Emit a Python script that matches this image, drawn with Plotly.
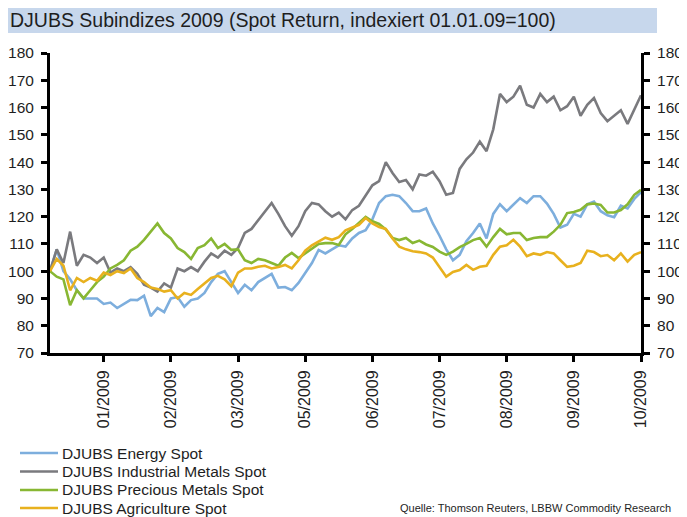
import plotly.graph_objects as go

# ---------------- data ----------------
series_names = ["DJUBS Energy Spot", "DJUBS Industrial Metals Spot",
                "DJUBS Precious Metals Spot", "DJUBS Agriculture Spot"]
series_colors = ["#7DAEDD", "#7A7A7E", "#88B733", "#E8B11E"]

tick_labels = ["01/2009", "02/2009", "03/2009", "05/2009", "06/2009",
               "07/2009", "08/2009", "09/2009", "10/2009"]
tick_index = [8, 18, 28, 38, 48, 58, 68, 78, 88]

energy = [100, 108, 100, 97, 93, 90, 90, 90, 88, 88.5, 86.5, 88, 89.5, 89.4, 91,
          83.5, 86.5, 85, 90, 90.5, 87, 89.4, 90, 92, 96, 99, 100, 96, 92, 95,
          93, 96, 97.5, 99, 94, 94.2, 93, 95.7, 99.3, 103, 107.8, 106.5, 108,
          109.5, 109, 112, 114, 115, 119, 125, 127.5, 128, 127.5, 125, 122, 122,
          123, 117.5, 113, 108, 104, 106, 111, 114, 117.5, 112, 121, 124.5, 122,
          124.5, 126.8, 125, 127.5, 127.5, 124.8, 121, 116, 117, 121, 120, 124.5,
          125.5, 122, 120.5, 119.8, 124, 123, 126.5, 129]

industrial = [100, 108, 103, 114.5, 102, 106, 105, 103, 105, 99.5, 101, 100,
              101.5, 99, 95, 94, 92.5, 95.5, 94, 101, 100, 101.5, 100, 103.5,
              106.5, 105, 107.5, 106, 108.5, 114, 115.5, 118.8, 122, 125, 121,
              116.5, 113, 116.5, 122, 125, 124.5, 122, 120, 121.5, 119, 122.4,
              124, 128, 131.5, 133, 140, 136, 132.7, 133.4, 130, 135.5, 135,
              136.5, 133, 128, 128.7, 137.5, 141, 143.5, 147.5, 144, 152, 165,
              162, 164, 168, 161, 160, 165, 162, 164, 159, 160.5, 164, 157, 161,
              163.5, 158, 155, 157, 159, 154, 159, 164.5]

precious = [100, 98, 97, 87.5, 93, 90, 93, 96, 98, 101, 102.3, 104, 107.5, 109,
            111.5, 114.5, 117.5, 114, 112, 108.5, 107, 104.5, 108.5, 109.5, 112,
            108.5, 110, 107.8, 108, 104, 103, 104.5, 104, 103, 102, 105, 106.7,
            104.8, 106.5, 108.5, 110, 110.3, 110.3, 109.6, 113.5, 115.5, 117.7,
            119.9, 118.3, 117.3, 115.3, 112.2, 111.4, 112.2, 110.3, 111.2, 109.8,
            108.9, 107.2, 106, 107.2, 108.8, 110, 111.4, 112.2, 109, 112.5, 115.5,
            113.5, 114, 114, 111.4, 112.2, 112.5, 112.5, 114.5, 117, 121.3, 121.7,
            122.5, 124.5, 124.8, 124.3, 121.5, 121.5, 122.4, 124.5, 128, 129.8]

agriculture = [100, 104.5, 102, 93, 97.5, 96, 97.5, 96.5, 99.5, 98.6, 100, 99.3,
               101, 97.5, 96, 94, 93.5, 92.5, 93, 90, 92, 91.3, 93.5, 95.5, 97.5,
               98.3, 97, 94.5, 99.5, 101, 101, 101.6, 102, 101, 101.5, 102.3, 101,
               104, 107.5, 109.5, 111, 112.3, 111.5, 112.5, 115, 116, 117, 119.5,
               117.5, 116.2, 115.5, 112, 109, 108, 107.3, 107, 106.5, 105, 101.5,
               98, 99.7, 100.4, 102.3, 100.5, 101.6, 102, 106, 109, 109.5, 111.5,
               109, 105.5, 106.5, 106, 107, 106.5, 104, 101.6, 102, 103, 107.5, 107,
               105.5, 105.9, 104, 106.5, 103.5, 106, 107]

all_series = [energy, industrial, precious, agriculture]
x_index = list(range(len(energy)))

# ---------------- figure ----------------
FONT = "Liberation Sans, Arial, sans-serif"
TXT = "#1e1e1e"

fig = go.Figure()
for i, (name, col, vals) in enumerate(zip(series_names, series_colors, all_series)):
    fig.add_trace(go.Scatter(
        x=x_index, y=vals, mode="lines", name=name,
        line=dict(color=col, width=2.6),
        showlegend=False,
        yaxis="y2" if i == len(all_series) - 1 else "y",
    ))

# the page body has an 8px margin: figure coords = page coords - 8
OFF = 8
W, H = 679, 509
ml, mr, mt, mb = 42, 46, 45, 164
pw, ph = W - ml - mr, H - mt - mb


def px2x(p):
    return (p - OFF - ml) / pw


def px2y(p):
    return (mt + ph - (p - OFF)) / ph


axis_common = dict(
    range=[70, 180], dtick=10, tick0=70, showgrid=False, zeroline=False,
    showline=True, linecolor="black", linewidth=3, automargin=False,
    ticks="outside", ticklen=6, tickwidth=2.5, tickcolor="black",
    ticklabelstandoff=4,
    tickfont=dict(family=FONT, size=15.5, color=TXT),
)

shapes = [dict(type="rect", xref="paper", yref="paper",
               x0=px2x(0), x1=px2x(657), y0=px2y(33), y1=px2y(6),
               fillcolor="#C7D7EC", line=dict(width=0), layer="below")]
annotations = [dict(text="DJUBS Subindizes 2009 (Spot Return, indexiert 01.01.09=100)",
                    xref="paper", yref="paper", x=px2x(8), y=px2y(20),
                    xanchor="left", yanchor="middle", showarrow=False,
                    font=dict(family=FONT, size=19.5, color=TXT))]

legend_y = [453, 471.5, 490, 508]
for name, col, ly in zip(series_names, series_colors, legend_y):
    shapes.append(dict(type="line", xref="paper", yref="paper",
                       x0=px2x(20), x1=px2x(58), y0=px2y(ly), y1=px2y(ly),
                       line=dict(color=col, width=2.6)))
    annotations.append(dict(text=name, xref="paper", yref="paper",
                            x=px2x(60), y=px2y(ly), xanchor="left", yanchor="middle",
                            showarrow=False,
                            font=dict(family=FONT, size=15.5, color=TXT)))

annotations.append(dict(text="Quelle: Thomson Reuters, LBBW Commodity Research",
                        xref="paper", yref="paper", x=px2x(673), y=px2y(508),
                        xanchor="right", yanchor="middle", showarrow=False,
                        font=dict(family=FONT, size=11, color=TXT)))

fig.update_layout(
    width=W, height=H, autosize=False,
    margin=dict(l=ml, r=mr, t=mt, b=mb, pad=0),
    paper_bgcolor="white", plot_bgcolor="white",
    showlegend=False,
    xaxis=dict(range=[0, len(energy) - 1], tickmode="array",
               tickvals=tick_index, ticktext=tick_labels, tickangle=-90,
               showgrid=False, zeroline=False, showline=True, linecolor="black",
               linewidth=3, ticks="outside", ticklen=6, tickwidth=2.5,
               tickcolor="black", ticklabelstandoff=2, automargin=False,
               tickfont=dict(family=FONT, size=16, color=TXT)),
    yaxis=dict(side="left", **axis_common),
    yaxis2=dict(side="right", overlaying="y", **axis_common),
    shapes=shapes,
    annotations=annotations,
)

fig.write_html("out.html")
